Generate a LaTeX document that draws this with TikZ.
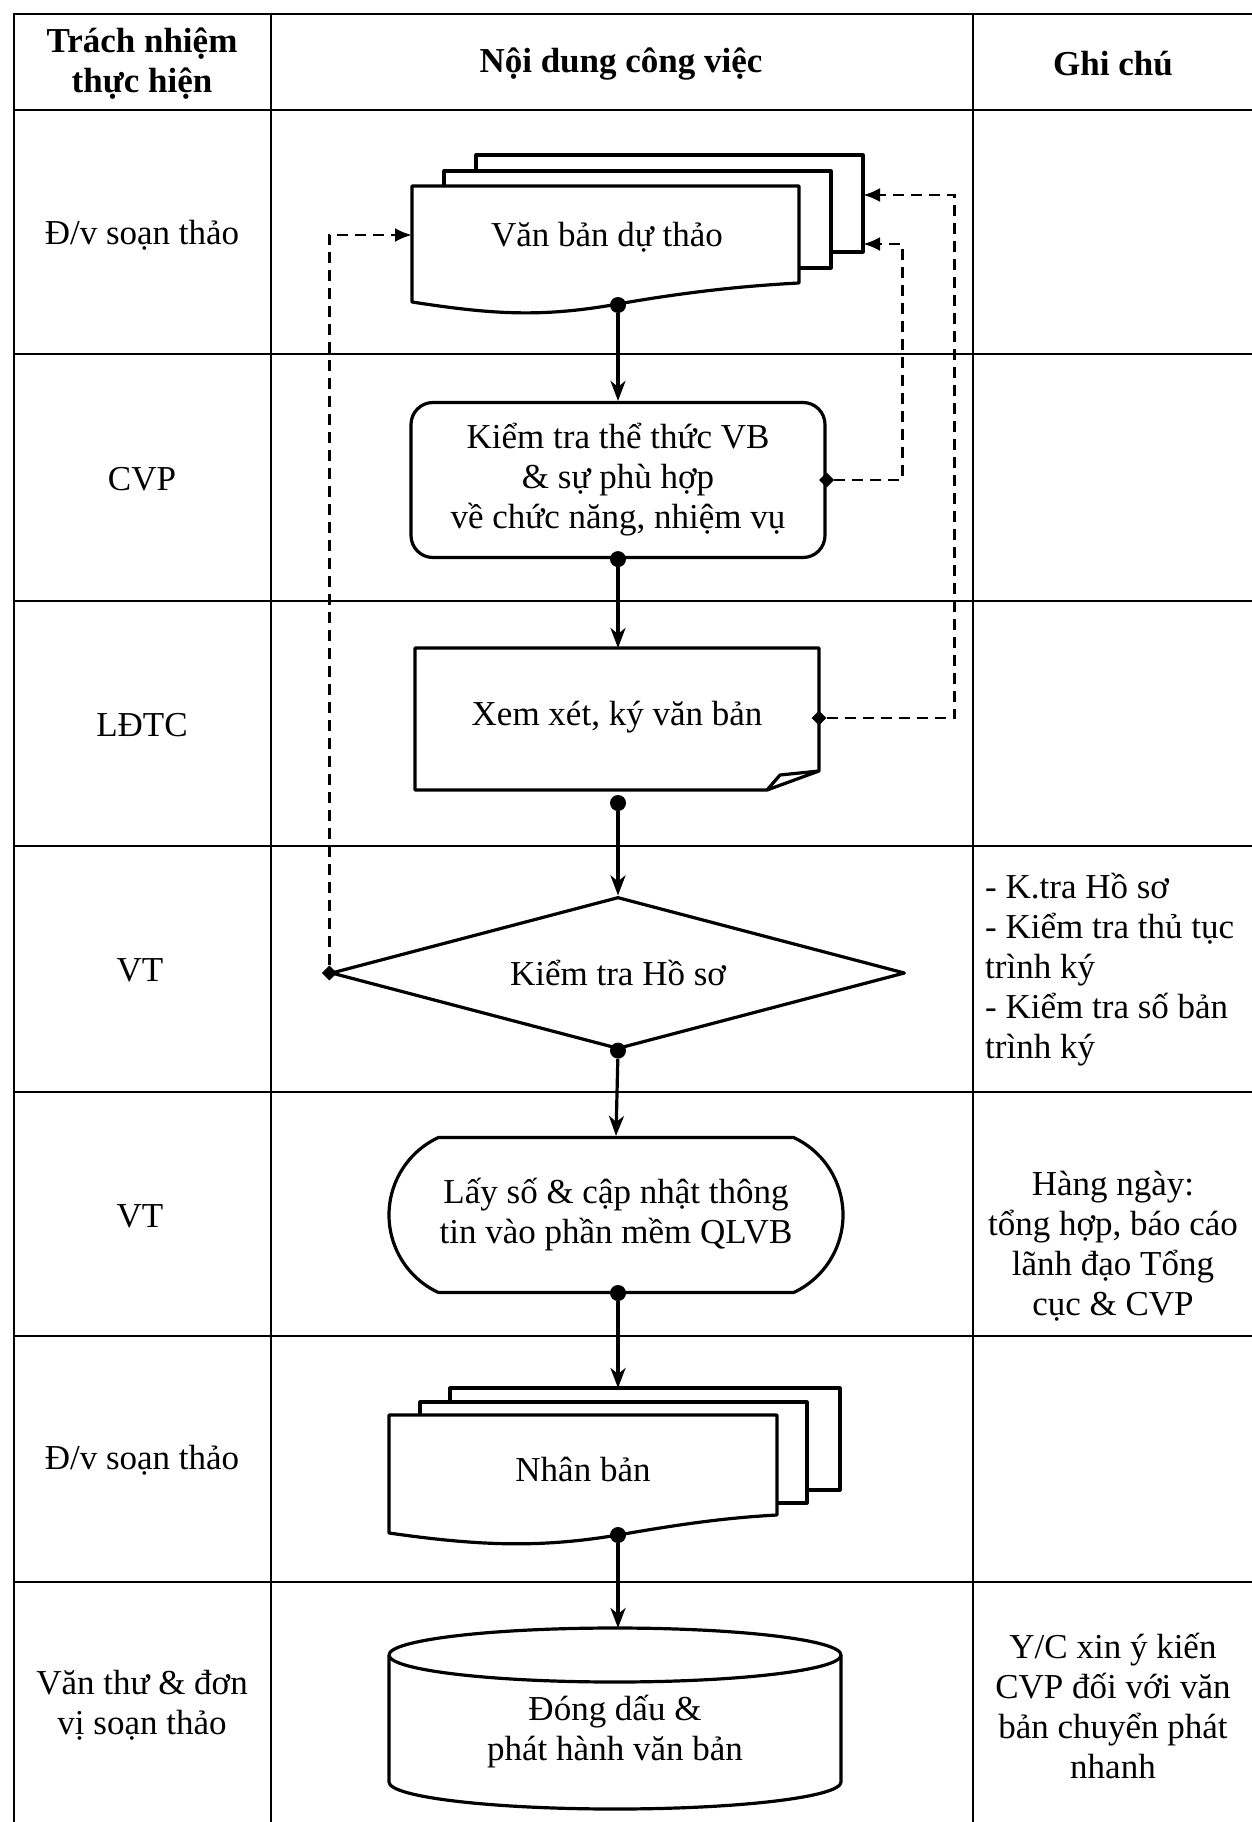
\documentclass[tikz,border=0pt]{standalone}
\usepackage{fontspec}
\setmainfont{Liberation Serif}
\usetikzlibrary{arrows.meta,shapes.geometric,shapes.misc}
\begin{document}
\begin{tikzpicture}[x=1pt,y=-1pt,
  tbl/.style={line width=2pt},
  shp/.style={line width=3.2pt, line join=round},
  txt/.style={font=\fontsize{35}{40}\selectfont, align=center, inner sep=0pt},
  hdr/.style={font=\bfseries\fontsize{35}{40}\selectfont, align=center, inner sep=0pt},
  gnote/.style={font=\fontsize{35}{40}\selectfont, align=left, inner sep=0pt},
  flow/.style={line width=3.2pt, -{Stealth[length=20pt,width=15pt,inset=6pt]}},
  fb/.style={line width=2.8pt, dash pattern=on 11pt off 7pt, -{Latex[length=17pt,width=14pt]}},
  dotn/.style={circle, fill, inner sep=0pt, minimum size=16pt},
  dmark/.style={diamond, fill, inner sep=0pt, minimum size=15pt}
]
\useasboundingbox (0,0) rectangle (1251,1822);
\fill[white] (0,0) rectangle (1251,1822);

% table
\draw[tbl] (14,14) rectangle (1262,1832);
\draw[tbl] (271,14) -- (271,1832);
\draw[tbl] (973,14) -- (973,1832);
\foreach \yy in {110,354,601,846,1092,1336,1582} \draw[tbl] (14,\yy) -- (1262,\yy);

% header
\node[hdr] (h1) at (142,64) {Trách nhiệm\\thực hiện};
\node[hdr] (h2) at (621,64) {Nội dung công việc};
\node[hdr] (h3) at (1113,64) {Ghi chú};

% left column
\node[txt] (r1) at (142,235) {Đ/v soạn thảo};
\node[txt] (r2) at (142,479) {CVP};
\node[txt] (r3) at (142,725) {LĐTC};
\node[txt] (r4) at (140,970) {VT};
\node[txt] (r5) at (140,1216) {VT};
\node[txt] (r6) at (142,1460) {Đ/v soạn thảo};
\node[txt] (r7) at (142,1705) {Văn thư \& đơn\\vị soạn thảo};

% node 1: multi-document
\draw[shp] (476,171) -- (476,155) -- (863,155) -- (863,252) -- (831,252);
\draw[shp] (444,186) -- (444,171) -- (831,171) -- (831,268) -- (799,268);
\draw[shp,fill=white] (412,186) -- (799,186) -- (799,283)
  .. controls (740,286) and (680,293) .. (618,304)
  .. controls (540,318) and (490,314) .. (412,302) -- cycle;
\node[txt] (n1) at (607,237) {Văn bản dự thảo};
\coordinate (n1w) at (412,235);
\coordinate (n1bA) at (863,244);
\coordinate (n1bB) at (863,195);
\node[dotn] (d1) at (618,305) {};

% node 2
\node[shp, draw, rounded corners=22pt, minimum width=414pt, minimum height=155pt, txt] (n2) at (618,480)
  {Kiểm tra thể thức VB\\\& sự phù hợp\\về chức năng, nhiệm vụ};
\node[dotn] (d2) at (n2.south) {};
\node[dmark] (m2) at (n2.east) {};

% node 3: card with folded corner
\draw[shp,fill=white] (415,648) -- (819,648) -- (819,771) -- (767,790) -- (415,790) -- cycle;
\draw[shp] (767,790) -- (780,775) -- (819,771);
\node[txt] (n3) at (617,717) {Xem xét, ký văn bản};
\coordinate (n3top) at (618,648);
\node[dotn] (d3) at (618,803) {};
\node[dmark] (m3) at (819,718) {};

% node 4: decision
\node[shp, draw, diamond, aspect=3.78, minimum width=574pt, minimum height=152pt, txt] (n4) at (618,973) {Kiểm tra Hồ sơ};
\node[dotn] (d4) at (n4.south) {};
\node[dmark] (m4) at (n4.west) {};

% node 5: terminator
\node[shp, draw, rounded rectangle, rounded rectangle arc length=130, minimum width=454pt, minimum height=155pt, txt] (n5) at (616,1215)
  {Lấy số \& cập nhật thông\\tin vào phần mềm QLVB};
\node[dotn] (d5) at (618,1293) {};

% node 6: multi-document
\draw[shp] (450,1402) -- (450,1388) -- (840,1388) -- (840,1490) -- (807,1490);
\draw[shp] (420,1415) -- (420,1402) -- (807,1402) -- (807,1503) -- (777,1503);
\draw[shp,fill=white] (389,1415) -- (777,1415) -- (777,1515)
  .. controls (720,1518) and (670,1526) .. (618,1535)
  .. controls (540,1548) and (480,1546) .. (389,1533) -- cycle;
\node[txt] (n6) at (583,1469) {Nhân bản};
\coordinate (n6top) at (618,1388);
\node[dotn] (d6) at (618,1535) {};

% node 7: cylinder
\draw[shp] (389,1655) -- (389,1782) arc[start angle=180, end angle=0, x radius=226, y radius=27] -- (841,1655);
\draw[shp] (615,1655) ellipse[x radius=226, y radius=27];
\node[txt] (n7) at (615,1732) {Đóng dấu \&\\phát hành văn bản};
\coordinate (n7top) at (618,1628);

% main flow
\draw[flow] (d1) -- (n2.north);
\draw[flow] (d2) -- (n3top);
\draw[flow] (d3) -- (n4.north);
\draw[flow] (d4) -- (n5.north);
\draw[flow] (d5) -- (n6top);
\draw[flow] (d6) -- (n7top);

% feedback
\draw[fb] (m4.north) |- (n1w);
\draw[fb] (m2.east) -- ++(68,0) |- (n1bA);
\draw[fb] (m3.east) -- ++(128,0) |- (n1bB);

% notes
\node[gnote, anchor=west] (g4) at (985,970) {- K.tra Hồ sơ\\- Kiểm tra thủ tục\\trình ký\\- Kiểm tra số bản\\trình ký};
\node[txt] (g5) at (1113,1246) {Hàng ngày:\\tổng hợp, báo cáo\\lãnh đạo Tổng\\cục \& CVP};
\node[txt] (g7) at (1113,1706) {Y/C xin ý kiến\\CVP đối với văn\\bản chuyển phát\\nhanh};
\end{tikzpicture}
\end{document}
